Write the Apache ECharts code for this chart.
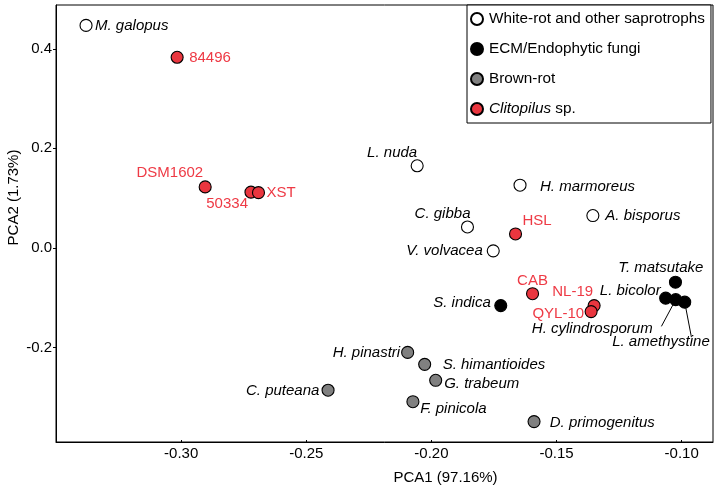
<!DOCTYPE html>
<html><head><meta charset="utf-8">
<script src="https://cdn.jsdelivr.net/npm/echarts@6/dist/echarts.min.js"></script>
<style>html,body{margin:0;padding:0;background:#fff}#c{width:720px;height:489px}</style>
</head><body><div id="c"></div>
<script>
// ---- data ----
const groups = ['White-rot and other saprotrophs', 'ECM/Endophytic fungi', 'Brown-rot', 'Clitopilus sp.'];
const whiteRotNames = ['M. galopus', 'L. nuda', 'H. marmoreus', 'C. gibba', 'A. bisporus', 'V. volvacea'];
const whiteRotPCA1 = [-0.338, -0.2057, -0.1646, -0.1856, -0.1355, -0.1753];
const whiteRotPCA2 = [0.447, 0.165, 0.126, 0.042, 0.065, -0.006];
const ecmNames = ['T. matsutake', 'S. indica', 'L. bicolor', 'H. cylindrosporum', 'L. amethystine'];
const ecmPCA1 = [-0.1025, -0.1723, -0.1064, -0.1024, -0.0988];
const ecmPCA2 = [-0.069, -0.116, -0.101, -0.104, -0.109];
const brownNames = ['H. pinastri', 'S. himantioides', 'G. trabeum', 'C. puteana', 'F. pinicola', 'D. primogenitus'];
const brownPCA1 = [-0.2095, -0.2027, -0.1983, -0.2413, -0.2074, -0.159];
const brownPCA2 = [-0.210, -0.234, -0.266, -0.286, -0.309, -0.349];
const clitoNames = ['84496', 'DSM1602', '50334', 'XST', 'HSL', 'CAB', 'NL-19', 'QYL-10'];
const clitoPCA1 = [-0.3016, -0.2904, -0.2721, -0.2691, -0.1664, -0.1596, -0.135, -0.1362];
const clitoPCA2 = [0.383, 0.1225, 0.112, 0.111, 0.028, -0.092, -0.116, -0.128];
const xTicks = [-0.30, -0.25, -0.20, -0.15, -0.10];
const yTicks = [-0.2, 0.0, 0.2, 0.4];
const xName = 'PCA1 (97.16%)';
const yName = 'PCA2 (1.73%)';

// ---- label placement (pixel offsets from the point: align, dx, dy) ----
const labelPlace = {
  'M. galopus': ['left', 9, 0], '84496': ['left', 12, 1], 'DSM1602': ['right', -2, -14],
  '50334': ['right', -3, 12], 'XST': ['left', 8, 0], 'L. nuda': ['right', 0, -13],
  'H. marmoreus': ['left', 20, 1.5], 'C. gibba': ['right', 3, -13], 'HSL': ['left', 7, -13],
  'A. bisporus': ['left', 12.5, 0], 'V. volvacea': ['right', -10.5, -0.5],
  'T. matsutake': ['right', 28, -14.5], 'CAB': ['center', 0, -12.5], 'S. indica': ['right', -10, -3],
  'NL-19': ['right', -1, -13.5], 'QYL-10': ['right', -7, 2], 'L. bicolor': ['right', -5, -7],
  'H. cylindrosporum': ['right', -23, 29], 'L. amethystine': ['right', 25, 40],
  'H. pinastri': ['right', -7.5, 0.5], 'S. himantioides': ['left', 18, 0.5],
  'G. trabeum': ['left', 8.5, 3.5], 'C. puteana': ['right', -8.7, 0.7],
  'F. pinicola': ['left', 7.3, 7.6], 'D. primogenitus': ['left', 15.7, 1.6]
};
const leaders = { 'H. cylindrosporum': [-14.3, 26.7], 'L. amethystine': [6.7, 35] };

const FONT = 'Liberation Sans, Arial, sans-serif';
const RED = '#e9363f';

function build(names, xs, ys) {
  return names.map((n, i) => ({ name: n, value: [xs[i], ys[i]] }));
}

function scatter(name, names, xs, ys, fill, italic, textColor) {
  return {
    type: 'scatter', name: name, data: build(names, xs, ys), symbol: 'circle', symbolSize: 12, z: 3,
    itemStyle: { color: fill, borderColor: '#000', borderWidth: 1.1, opacity: 1 },
    emphasis: { disabled: true },
    label: {
      show: true, position: 'inside', formatter: '{b}', color: textColor,
      fontSize: 15, fontFamily: FONT, fontStyle: italic ? 'italic' : 'normal', textBorderWidth: 0
    },
    labelLayout: function (params) {
      const p = labelPlace[names[params.dataIndex]] || ['left', 10, 0];
      const r = params.rect;
      return {
        x: r.x + r.width / 2 + p[1], y: r.y + r.height / 2 + p[2],
        align: p[0], verticalAlign: 'middle', hideOverlap: false, moveOverlap: null
      };
    }
  };
}

const leaderData = ecmNames.map((n, i) => leaders[n] ? { name: n, value: [ecmPCA1[i], ecmPCA2[i]] } : null).filter(Boolean);

const chart = echarts.init(document.getElementById('c'), null, { renderer: 'canvas' });
chart.setOption({
  animation: false,
  backgroundColor: '#fff',
  textStyle: { fontFamily: FONT },
  grid: { left: 56, right: 7, top: 5, bottom: 47, containLabel: false, outerBoundsMode: 'none',
    show: true, borderColor: '#000', borderWidth: 1, backgroundColor: 'transparent' },
  xAxis: {
    type: 'value', min: -0.35, max: -0.0875,
    name: xName, nameLocation: 'middle', nameGap: 28, nameMoveOverlap: false,
    nameTextStyle: { fontSize: 15, color: '#000', fontFamily: FONT, padding: [0, 0, 0, 122] },
    axisLine: { show: true, onZero: false, lineStyle: { color: '#000', width: 1 } },
    axisTick: { show: true, inside: true, length: 2, customValues: xTicks, lineStyle: { color: '#000' } },
    axisLabel: { customValues: xTicks, formatter: v => v.toFixed(2), fontSize: 15, color: '#000', fontFamily: FONT, margin: 4 },
    splitLine: { show: false }
  },
  yAxis: {
    type: 'value', min: -0.39, max: 0.488,
    name: yName, nameLocation: 'middle', nameGap: 35, nameMoveOverlap: false,
    nameTextStyle: { fontSize: 15, color: '#000', fontFamily: FONT, padding: [0, 0, 0, 52] },
    axisLine: { show: true, onZero: false, lineStyle: { color: '#000', width: 1 } },
    axisTick: { show: true, inside: false, length: 3, customValues: yTicks, lineStyle: { color: '#000' } },
    axisLabel: { customValues: yTicks, formatter: v => v.toFixed(1), fontSize: 15, color: '#000', fontFamily: FONT, margin: 4 },
    splitLine: { show: false }
  },
  legend: {
    data: groups, orient: 'vertical', left: 467, top: 5,
    backgroundColor: '#fff', borderColor: '#000', borderWidth: 1, borderRadius: 0,
    padding: [5, 6, 5, 3], itemGap: 12, itemWidth: 14, itemHeight: 12, itemTextGap: 8,
    icon: 'circle', selectedMode: false,
    textStyle: { fontSize: 15.3, color: '#000', fontFamily: FONT, lineHeight: 18,
      rich: { i: { fontStyle: 'italic', fontSize: 15.3, color: '#000', fontFamily: FONT, lineHeight: 18 } } },
    formatter: n => n === 'Clitopilus sp.' ? '{i|Clitopilus} sp.' : n,
    z: 10
  },
  series: [
    {
      type: 'custom', name: 'leaders', z: 2, silent: true,
      data: leaderData,
      renderItem: (params, api) => {
        const p = api.coord([api.value(0), api.value(1)]);
        const d = leaders[leaderData[params.dataIndex].name];
        return { type: 'line', shape: { x1: p[0], y1: p[1], x2: p[0] + d[0], y2: p[1] + d[1] },
          style: { stroke: '#000', lineWidth: 1 } };
      }
    },
    scatter(groups[0], whiteRotNames, whiteRotPCA1, whiteRotPCA2, '#fff', true, '#000'),
    scatter(groups[1], ecmNames, ecmPCA1, ecmPCA2, '#000', true, '#000'),
    scatter(groups[2], brownNames, brownPCA1, brownPCA2, '#808080', true, '#000'),
    scatter(groups[3], clitoNames, clitoPCA1, clitoPCA2, RED, false, '#ee3a45')
  ]
});
</script>
</body></html>
